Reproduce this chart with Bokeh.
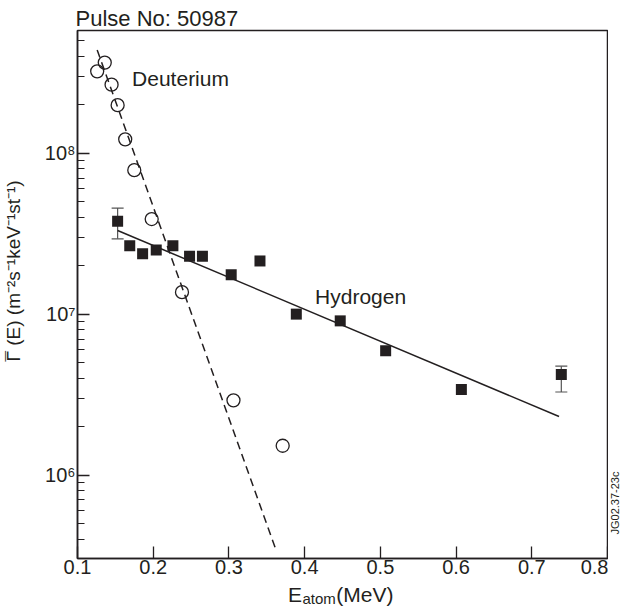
import math
from bokeh.plotting import figure
from bokeh.layouts import row, column
from bokeh.models import (Range1d, FixedTicker, CustomJSTickFormatter, Label,
                          Whisker, ColumnDataSource, TeeHead)
from bokeh.embed import file_html
from bokeh.resources import INLINE

# ---- data ----
d_energy = [0.126, 0.136, 0.145, 0.153, 0.163, 0.175, 0.198, 0.238, 0.306, 0.371]
d_flux = [3.23e8, 3.66e8, 2.67e8, 1.99e8, 1.22e8, 7.85e7, 3.9e7, 1.37e7, 2.91e6, 1.52e6]

h_energy = [0.153, 0.169, 0.186, 0.204, 0.226, 0.248, 0.265, 0.303, 0.341, 0.389,
            0.447, 0.507, 0.607, 0.739]
h_flux = [3.78e7, 2.66e7, 2.37e7, 2.5e7, 2.66e7, 2.29e7, 2.29e7, 1.76e7, 2.14e7, 1.0e7,
          9.08e6, 5.92e6, 3.4e6, 4.22e6]

err_energy = [0.153, 0.739]
err_upper = [4.56e7, 4.75e6]
err_lower = [2.94e7, 3.28e6]

d_fit_energy = [0.126, 0.362]
d_fit_flux = [4.38e8, 3.44e5]
h_fit_energy = [0.153, 0.736]
h_fit_flux = [3.31e7, 2.31e6]

x_ticks = [0.1, 0.2, 0.3, 0.4, 0.5, 0.6, 0.7, 0.8]
y_major = [1e6, 1e7, 1e8]

FONT = "Liberation Sans"
INK = "#231f20"

p = figure(width=574, height=582, y_axis_type="log",
           x_range=Range1d(0.1, 0.8), y_range=Range1d(10 ** 5.481, 10 ** 8.763),
           output_backend="svg", toolbar_location=None,
           min_border_left=43, min_border_right=1, min_border_top=30, min_border_bottom=24,
           title="Pulse No: 50987")

p.title.text_font = FONT
p.title.text_font_size = "22px"
p.title.text_font_style = "normal"
p.title.text_color = INK
p.title.align = "left"
p.title.standoff = 0
p.title.offset = -2

p.xgrid.visible = False
p.ygrid.visible = False
p.outline_line_color = INK
p.outline_line_width = 1.5
p.background_fill_color = "white"
p.border_fill_color = "white"

# x axis
xa = p.xaxis[0]
xa.ticker = FixedTicker(ticks=x_ticks)
xa.major_tick_in = 12
xa.major_tick_out = 0
xa.minor_tick_line_color = None
xa.axis_line_width = 1.5
xa.axis_line_color = INK
xa.major_tick_line_color = INK
xa.major_tick_line_width = 1.3
xa.major_label_text_font = FONT
xa.major_label_text_font_size = "20px"
xa.major_label_text_color = INK
xa.major_label_standoff = 1

# y axis
ya = p.yaxis[0]
minor = [m * 10 ** e for e in (5, 6, 7, 8) for m in range(2, 10)]
ya.ticker = FixedTicker(ticks=y_major, minor_ticks=minor)
ya.formatter = CustomJSTickFormatter(code="""
const sup = {"5": "\u2075", "6": "\u2076", "7": "\u2077", "8": "\u2078", "9": "\u2079"};
const e = Math.round(Math.log10(tick));
return "10" + sup[String(e)];
""")
ya.major_tick_in = 12
ya.major_tick_out = 0
ya.minor_tick_in = 7
ya.minor_tick_out = 0
ya.axis_line_width = 1.5
ya.axis_line_color = INK
ya.major_tick_line_color = INK
ya.minor_tick_line_color = INK
ya.major_tick_line_width = 1.3
ya.minor_tick_line_width = 1.2
ya.major_label_text_font = FONT
ya.major_label_text_font_size = "20px"
ya.major_label_text_color = INK
ya.major_label_standoff = 2

# fits
p.line(d_fit_energy, d_fit_flux, line_color=INK, line_width=1.5, line_dash="8 5")
p.line(h_fit_energy, h_fit_flux, line_color=INK, line_width=1.5)

# error bars
src = ColumnDataSource(dict(base=err_energy, upper=err_upper, lower=err_lower))
w = Whisker(source=src, base="base", upper="upper", lower="lower",
            line_color="#555555", line_width=1.2,
            upper_head=TeeHead(size=12, line_color="#555555", line_width=1.2),
            lower_head=TeeHead(size=12, line_color="#555555", line_width=1.2))
p.add_layout(w)

# points
p.scatter(d_energy, d_flux, marker="circle", size=13, fill_alpha=0,
          line_color=INK, line_width=1.3)
p.scatter(h_energy, h_flux, marker="square", size=11, fill_color=INK, line_color=None)

# series labels
p.add_layout(Label(x=0.1721, y=2.93e8, text="Deuterium", text_font=FONT,
                   text_font_size="21px", text_color=INK, text_baseline="middle"))
p.add_layout(Label(x=0.4138, y=1.29e7, text="Hydrogen", text_font=FONT,
                   text_font_size="21px", text_color=INK, text_baseline="middle"))


def strip(w, h):
    f = figure(width=w, height=h, x_range=Range1d(0, 1), y_range=Range1d(0, 1),
               min_border=0, x_axis_location=None, y_axis_location=None,
               toolbar_location=None, output_backend="svg")
    f.title.visible = False
    f.outline_line_color = None
    f.xgrid.visible = False
    f.ygrid.visible = False
    f.background_fill_color = "white"
    f.border_fill_color = "white"
    return f


# left strip: y axis title (Gamma with overbar), rotated
lft = strip(34, 582)
lft.add_layout(Label(x=12.9, y=197, x_units="screen", y_units="screen",
                     text="\u0393 (E) (m\u207b\u00b2s\u207b\u00b9keV\u207b\u00b9st\u207b\u00b9)",
                     angle=math.pi / 2, text_font=FONT, text_font_size="19px",
                     text_color=INK, text_align="left", text_baseline="middle"))
lft.add_layout(Label(x=11.9, y=197, x_units="screen", y_units="screen", text="\u00af",
                     angle=math.pi / 2, text_font=FONT, text_font_size="19px",
                     text_color=INK, text_align="left", text_baseline="middle"))

# right strip: figure code, rotated
q = strip(12, 582)
q.add_layout(Label(x=6, y=24, x_units="screen", y_units="screen", text="JG02.37-23c",
                   angle=math.pi / 2, text_font=FONT, text_font_size="11px",
                   text_color=INK, text_align="left", text_baseline="middle"))

# bottom strip: x axis title E with subscript "atom"
r = strip(620, 26)
r.add_layout(Label(x=287.5, y=14.0, x_units="screen", y_units="screen", text="E",
                   text_font=FONT, text_font_size="21px", text_color=INK,
                   text_baseline="middle"))
r.add_layout(Label(x=302.0, y=9.8, x_units="screen", y_units="screen", text="atom",
                   text_font=FONT, text_font_size="15px", text_color=INK,
                   text_baseline="middle"))
r.add_layout(Label(x=335.8, y=14.0, x_units="screen", y_units="screen", text="(MeV)",
                   text_font=FONT, text_font_size="21px", text_color=INK,
                   text_baseline="middle"))

layout = column(row(lft, p, q, spacing=0), r, spacing=0)

open("out.html", "w").write(file_html(layout, INLINE))
